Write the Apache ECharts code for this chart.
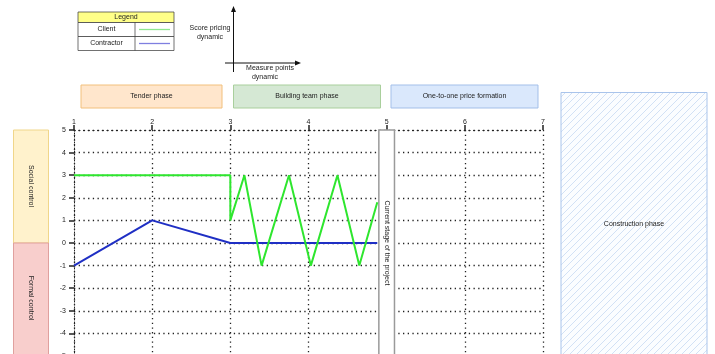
<!DOCTYPE html>
<html><head><meta charset="utf-8">
<script src="https://cdn.jsdelivr.net/npm/echarts@6/dist/echarts.min.js"></script>
<style>html,body{margin:0;padding:0;background:#fff}#c{width:715px;height:354px}</style>
</head><body><div id="c"></div>
<script>
// ---- data ----
const clientX = [1, 3, 3, 3.18, 3.40, 3.75, 4.03, 4.37, 4.65, 4.88];
const clientY = [3, 3, 1, 3, -1, 3, -1, 3, -1, 1.8];
const contractorX = [1, 2, 3, 4.88];
const contractorY = [-1, 1, 0, 0];
const xRange = [1, 7];
const yRange = [-5, 5];
const currentStage = [4.9, 5.1];
const seriesNames = ['Client', 'Contractor'];
const phases = ['Tender phase', 'Building team phase', 'One-to-one price formation'];
const controls = ['Social control', 'Formal control'];
const stageLabel = 'Current stage of the project';
const constructionLabel = 'Construction phase';

const FONT = 'Liberation Sans, Arial, sans-serif';
const font = (s) => s + 'px ' + FONT;

// hatch pattern
const pc = document.createElement('canvas'); pc.width = 7; pc.height = 7;
const g = pc.getContext('2d');
g.fillStyle = '#fbfdff'; g.fillRect(0, 0, 7, 7);
g.strokeStyle = '#c8d9f2'; g.lineWidth = 0.8;
g.beginPath(); g.moveTo(0, 7); g.lineTo(7, 0); g.moveTo(-1, 1); g.lineTo(1, -1); g.moveTo(6, 8); g.lineTo(8, 6); g.stroke();

const txt = (x, y, t, size, rot) => ({
  type: 'text', x: x, y: y, rotation: rot || 0, z: 10,
  style: { text: t, fill: '#222', font: font(size), textAlign: 'center', textVerticalAlign: 'middle' }
});
const rect = (x, y, w, h, fill, stroke, lw) => ({
  type: 'rect', shape: { x: x, y: y, width: w, height: h },
  style: { fill: fill, stroke: stroke, lineWidth: lw || 1 }, z: 5
});
const line = (x1, y1, x2, y2, stroke, lw) => ({
  type: 'line', shape: { x1: x1, y1: y1, x2: x2, y2: y2 }, style: { stroke: stroke, lineWidth: lw || 1 }, z: 6
});

const graphics = [
  // legend table
  rect(78, 12, 96, 10.5, '#ffff88', '#333', 0.7),
  rect(78, 22.5, 96, 14, '#fff', '#333', 0.7),
  rect(78, 36.5, 96, 14, '#fff', '#333', 0.7),
  line(135, 22.5, 135, 50.5, '#333', 0.7),
  txt(126, 17.5, 'Legend', 7),
  txt(106.5, 29.5, seriesNames[0], 7),
  txt(106.5, 43.5, seriesNames[1], 7),
  line(139, 29.5, 170, 29.5, '#8ee88e', 1.3),
  line(139, 43.5, 170, 43.5, '#7f7fe0', 1.3),
  // axis diagram
  line(233.5, 72, 233.5, 10, '#111', 1),
  { type: 'polygon', shape: { points: [[233.5, 6], [231, 12], [236, 12]] }, style: { fill: '#111' }, z: 6 },
  line(225, 63, 296, 63, '#111', 1),
  { type: 'polygon', shape: { points: [[301, 63], [295, 60.5], [295, 65.5]] }, style: { fill: '#111' }, z: 6 },
  txt(210, 28, 'Score pricing', 7), txt(210, 37, 'dynamic', 7),
  txt(270, 68, 'Measure points', 7), txt(265, 77, 'dynamic', 7),
  // phases
  rect(81, 85, 141, 23, '#ffe6cc', '#f2c07c', 1),
  rect(233.5, 85, 147, 23, '#d5e8d4', '#a9cf9c', 1),
  rect(391, 85, 147, 23, '#dae8fc', '#a3bfe9', 1),
  txt(151.5, 96.5, phases[0], 7),
  txt(307, 96.5, phases[1], 7),
  txt(464.5, 96.5, phases[2], 7),
  // controls
  rect(13.5, 130, 35, 113, '#fff2cc', '#f0d68a', 1),
  rect(13.5, 243, 35, 120, '#f8cecc', '#e0a09e', 1),
  txt(31, 186, controls[0], 7, -Math.PI / 2),
  txt(31, 298, controls[1], 7, -Math.PI / 2),
  // construction phase
  { type: 'rect', shape: { x: 561, y: 92.5, width: 146, height: 280 },
    style: { fill: { image: pc, repeat: 'repeat' }, stroke: '#a9c4eb', lineWidth: 1 }, z: 5 },
  txt(634, 224, constructionLabel, 7)
];

const chart = echarts.init(document.getElementById('c'), null, { renderer: 'canvas' });
const dot = [1.3, 3.4];
chart.setOption({
  animation: false,
  backgroundColor: '#fff',
  textStyle: { fontFamily: FONT },
  grid: { left: 74, width: 469, top: 130, height: 226, containLabel: false, outerBoundsMode: 'none' },
  xAxis: {
    type: 'value', position: 'top', min: xRange[0], max: xRange[1], interval: 1,
    axisLine: { show: true, onZero: false, lineStyle: { color: '#222', type: dot, width: 1 } },
    axisTick: { show: true, length: 5, lineStyle: { color: '#222', width: 1.5 } },
    axisLabel: { fontSize: 7, color: '#222', margin: 4, fontFamily: FONT },
    splitLine: { show: true, lineStyle: { color: '#222', type: dot, width: 1.3 } }
  },
  yAxis: {
    type: 'value', min: yRange[0], max: yRange[1], interval: 1,
    axisLine: { show: true, onZero: false, lineStyle: { color: '#222', type: [1, 2], width: 1 } },
    axisTick: { show: true, length: 5, lineStyle: { color: '#222', width: 1.5 } },
    axisLabel: { fontSize: 7, color: '#222', margin: 8, fontFamily: FONT },
    splitLine: { show: true, lineStyle: { color: '#222', type: dot, width: 1.3 } }
  },
  series: [
    {
      name: seriesNames[1], type: 'line', symbol: 'none', z: 3,
      data: contractorX.map((x, i) => [x, contractorY[i]]),
      lineStyle: { color: '#1f2fc4', width: 2 },
      markArea: {
        silent: true,
        itemStyle: { color: '#fff', borderColor: '#9a9a9a', borderWidth: 1.5 },
        label: { show: true, position: 'inside', rotate: -90, fontSize: 7, color: '#222', fontFamily: FONT },
        data: [[{ name: stageLabel, xAxis: currentStage[0], yAxis: yRange[1] }, { xAxis: currentStage[1], yAxis: yRange[0] }]]
      }
    },
    {
      name: seriesNames[0], type: 'line', symbol: 'none', z: 4,
      data: clientX.map((x, i) => [x, clientY[i]]),
      lineStyle: { color: '#2ee62e', width: 2 }
    }
  ],
  graphic: graphics
});
</script>
</body></html>
